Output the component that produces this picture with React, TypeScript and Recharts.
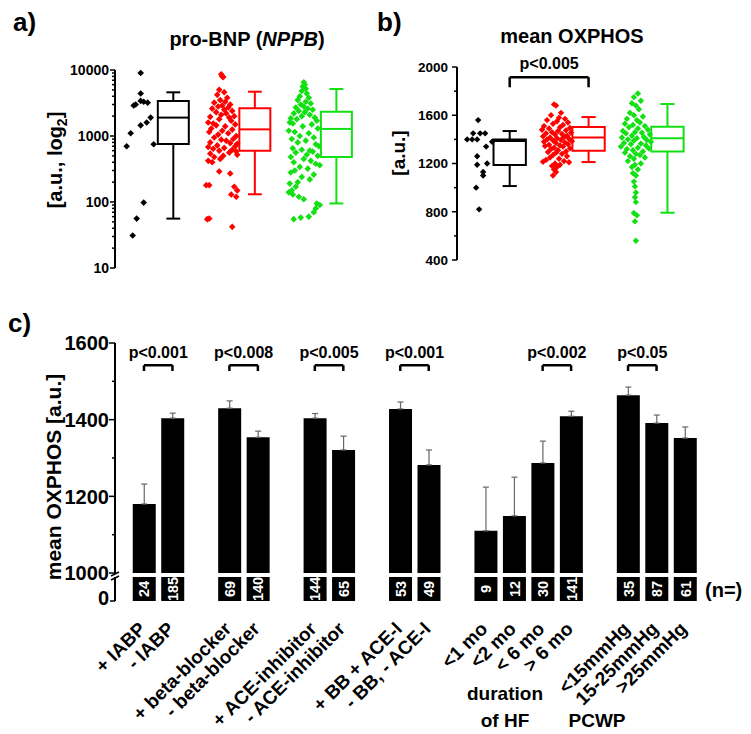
import React from 'react';
import { ComposedChart, BarChart, Bar, Scatter, XAxis, YAxis, ReferenceArea, ReferenceLine, ErrorBar } from 'recharts';

const FONT = '"Liberation Sans", Arial, Helvetica, sans-serif';

// ---------- shared groups ----------
const GROUPS = ['NF', 'NICM', 'ICM'];
const GROUP_COLORS = ['#000000', '#ff0000', '#12e012'];
const LABEL_COLORS = ['#000000', '#ff1a1a', '#3cc43c'];

// ---------- panel a: pro-BNP (log) ----------  [value, jitter]
const BNP_NF = [[9000,0],[4400,0],[2900,-7],[3000,-5],[3400,0],[3300,3],[3200,7],[1900,10],[1600,6],[1450,0],[1100,-10],[700,-14],[750,13],[98,3],[56,-4],[31,-8]];
const BNP_NICM = [[8600,-1],[8000,0],[7800,1],[5000,-3],[4600,2],[4200,-5],[3800,5],[3500,-2],[3300,3],[3200,-8],[3000,8],[2900,0],[2800,-4],[2700,6],[2600,-10],[2500,2],[2400,10],[2300,-6],[2200,4],[2100,-1],[2000,12],[1950,-12],[1900,7],[1800,-3],[1700,9],[1600,-14],[1550,-9],[1500,13],[1450,-6],[1400,3],[1300,-11],[1250,10],[1200,0],[1150,-13],[1100,6],[1050,-4],[1000,14],[950,-8],[900,11],[880,-1],[850,4],[800,-12],[780,8],[760,15],[720,-5],[700,13],[680,-14],[660,2],[640,-9],[620,10],[600,-3],[580,14],[560,7],[540,-12],[520,15],[500,1],[480,-8],[450,-2],[420,-14],[400,-10],[290,-3],[270,8],[180,-16],[180,-13],[170,12],[150,15],[130,9],[120,14],[55,-15],[56,-13],[42,10]];
const BNP_ICM = [[6500,0],[6000,1],[5600,-1],[5200,2],[4800,-2],[4400,3],[4000,-4],[3800,5],[3500,-6],[3300,2],[3100,7],[3000,-3],[2800,0],[2700,-8],[2600,4],[2500,9],[2400,-5],[2300,1],[2200,-10],[2100,6],[2000,-2],[1900,11],[1850,-13],[1800,-7],[1700,13],[1600,-14],[1550,-11],[1500,8],[1400,-1],[1300,14],[1200,-15],[1150,-9],[1100,5],[1000,-4],[950,10],[900,-12],[850,2],[800,-6],[750,12],[700,15],[650,-11],[620,-2],[600,6],[580,9],[560,-8],[520,3],[500,14],[480,-13],[450,0],[420,7],[400,-10],[380,12],[360,16],[340,-4],[320,4],[300,-9],[280,-13],[260,10],[240,-2],[220,6],[200,-6],[190,-14],[170,-8],[150,-12],[140,-15],[130,-11],[120,-5],[110,0],[95,13],[90,16],[80,12],[70,10],[60,5],[55,-10],[58,-3]];
// [whiskerLow, q1, median, q3, whiskerHigh]
const BNP_BOX = [[56,755,1900,3390,4590],[131,600,1260,2630,4690],[95,481,1280,2330,5150]];
const BNP_TICKS = [10,20,30,40,50,60,70,80,90,100,200,300,400,500,600,700,800,900,1000,2000,3000,4000,5000,6000,7000,8000,9000,10000];
const BNP_MAJOR = [10,100,1000,10000];

// ---------- panel b: mean OXPHOS ----------
const OX_NF = [[1560,0],[1400,-11],[1400,-6],[1400,-1],[1450,-5],[1450,2],[1450,7],[1340,8],[1380,14],[1260,-1],[1190,-1],[1200,9],[1130,5],[1100,5],[1000,-2],[820,1]];
const OX_NICM = [[1690,-3],[1680,-1],[1620,4],[1600,-6],[1580,2],[1570,8],[1560,-10],[1550,0],[1540,11],[1530,-4],[1520,6],[1510,-13],[1500,3],[1495,13],[1490,-8],[1480,-15],[1475,9],[1470,1],[1460,-5],[1455,14],[1450,-11],[1445,5],[1440,-2],[1430,10],[1425,-14],[1420,7],[1415,-7],[1410,0],[1405,12],[1400,-10],[1395,4],[1390,-4],[1385,15],[1380,-13],[1375,8],[1370,-1],[1360,11],[1355,-8],[1350,3],[1345,-12],[1340,6],[1330,-3],[1325,13],[1320,-6],[1310,1],[1300,9],[1295,-9],[1290,-1],[1280,5],[1270,-4],[1260,10],[1250,-7],[1240,2],[1230,-11],[1220,7],[1215,-14],[1210,12],[1200,-2],[1190,3],[1180,-5],[1170,0],[1150,-3],[1130,-1],[1100,-4]];
const OX_ICM = [[1780,2],[1750,-2],[1720,5],[1700,-4],[1680,0],[1650,3],[1620,-6],[1600,-2],[1590,7],[1570,-9],[1560,1],[1540,4],[1530,-11],[1520,-3],[1510,9],[1500,-7],[1490,2],[1480,12],[1470,-13],[1460,-1],[1455,6],[1450,-10],[1440,14],[1430,-4],[1420,8],[1415,-14],[1410,1],[1400,-8],[1395,11],[1390,-2],[1380,15],[1370,-12],[1365,5],[1360,-5],[1350,10],[1340,-15],[1330,2],[1325,13],[1320,-9],[1310,-3],[1300,7],[1290,-11],[1280,0],[1270,4],[1260,-6],[1250,9],[1240,-2],[1220,-8],[1200,5],[1190,-1],[1170,-4],[1150,2],[1120,-3],[1100,0],[1050,-2],[1010,-1],[960,0],[920,-1],[880,0],[790,-2],[770,1],[720,-1],[560,0]];
const OX_BOX = [[1013,1187,1386,1398,1469],[1212,1305,1415,1502,1585],[792,1300,1410,1505,1693]];
const OX_TICKS = [400,600,800,1000,1200,1400,1600,1800,2000];
const OX_LABEL_POS = [0.08, 0.94, 1.82];
const OX_PVALUE = { from: 0, to: 1, text: 'p<0.005', top: 1915, leg: 1832 };

// ---------- panel c: bars ----------
const C_LABELS = ['+ IABP','- IABP','','+ beta-blocker','- beta-blocker','','+ ACE-inhibitor','- ACE-inhibitor','','+ BB + ACE-I','- BB, - ACE-I','','<1 mo','<2 mo','< 6 mo','> 6 mo','','<15mmHg','15-25mmHg','>25mmHg'];
const C_MEANS = [1180,1404,null,1430,1354,null,1404,1321,null,1428,1282,null,1110,1149,1287,1409,null,1464,1391,1352];
const C_SEM = [52,13,null,19,16,null,12,36,null,18,39,null,114,101,57,13,null,21,21,29];
const C_N = [24,185,null,69,140,null,144,65,null,53,49,null,9,12,30,141,null,35,87,61];
const C_TICKS = [1000,1100,1200,1300,1400,1500,1600];
const C_BRACKETS = [[0,1,'p<0.001'],[3,4,'p<0.008'],[6,7,'p<0.005'],[9,10,'p<0.001'],[14,15,'p<0.002'],[17,18,'p<0.05']];
const C_BRACKET_TOP = 1542;
const C_BRACKET_LEG = 1527;

// ---------- helpers ----------
const BOX_OFF = 0.2;
const toPoints = (arr: number[][], gi: number, unit: number) =>
  arr.map(([v, j]) => ({ x: gi - BOX_OFF + j / unit, y: v }));

const diamond = (r: number) => (props: any) => {
  const { cx, cy, fill } = props;
  if (cx == null || cy == null) return null;
  return <path d={`M${cx},${cy - r}L${cx + r},${cy}L${cx},${cy + r}L${cx - r},${cy}Z`} fill={fill} />;
};

const makeYTick = (isMajor: (v: number) => boolean, fontSize: number, majorLen: number, minorLen: number, gap: number) => (props: any) => {
  const { x, y, payload } = props;
  const v = payload.value;
  const major = isMajor(v);
  return (
    <g>
      <line x1={x - (major ? majorLen : minorLen)} x2={x} y1={y} y2={y} stroke="#000" strokeWidth={1.5} />
      {major && (
        <text x={x - gap} y={y} dy="0.36em" textAnchor="end" fontSize={fontSize} fontWeight="bold" fontFamily={FONT} fill="#000">{v}</text>
      )}
    </g>
  );
};

const makeGroupTick = (positions: number[], dyText: number, fontSize: number) => (props: any) => {
  const { x, y, payload } = props;
  let i = positions.findIndex((p) => Math.abs(p - payload.value) < 1e-6);
  if (i < 0) i = 0;
  return (
    <text x={x} y={y + dyText} textAnchor="middle" fontSize={fontSize} fontWeight="bold" fontFamily={FONT} fill={LABEL_COLORS[i]}>{GROUPS[i]}</text>
  );
};

function boxElements(box: number[][], halfW: number, capHalf: number, prefix: string) {
  const out: any[] = [];
  box.forEach(([lo, q1, med, q3, hi], gi) => {
    const c = gi + BOX_OFF;
    const col = GROUP_COLORS[gi];
    out.push(<ReferenceArea key={`${prefix}a${gi}`} x1={c - halfW} x2={c + halfW} y1={q1} y2={q3} fill="none" fillOpacity={0} stroke={col} strokeWidth={2} strokeOpacity={1} />);
    out.push(<ReferenceLine key={`${prefix}m${gi}`} segment={[{ x: c - halfW, y: med }, { x: c + halfW, y: med }]} stroke={col} strokeWidth={2} />);
    out.push(<ReferenceLine key={`${prefix}u${gi}`} segment={[{ x: c, y: q3 }, { x: c, y: hi }]} stroke={col} strokeWidth={2} />);
    out.push(<ReferenceLine key={`${prefix}l${gi}`} segment={[{ x: c, y: q1 }, { x: c, y: lo }]} stroke={col} strokeWidth={2} />);
    out.push(<ReferenceLine key={`${prefix}hc${gi}`} segment={[{ x: c - capHalf, y: hi }, { x: c + capHalf, y: hi }]} stroke={col} strokeWidth={2} />);
    out.push(<ReferenceLine key={`${prefix}lc${gi}`} segment={[{ x: c - capHalf, y: lo }, { x: c + capHalf, y: lo }]} stroke={col} strokeWidth={2} />);
  });
  return out;
}

// ---------- panel A ----------
function PanelA() {
  const UNIT = 81.5;
  const sets = [BNP_NF, BNP_NICM, BNP_ICM];
  return (
    <ComposedChart width={375} height={290} margin={{ top: 70, right: 6, bottom: 22, left: 0 }}>
      <XAxis type="number" dataKey="x" domain={[-0.515, 2.6]} ticks={[0, 1, 2]} height={0} axisLine={false} tickLine={false} tickSize={0} tickMargin={0} allowDataOverflow tick={makeGroupTick([0, 1, 2], -8, 21)} />
      <YAxis type="number" dataKey="y" scale="log" domain={[10, 10000]} allowDataOverflow ticks={BNP_TICKS} interval={0} width={115} tickSize={0} tickMargin={0} axisLine={{ stroke: '#000', strokeWidth: 2 }} tickLine={false} tick={makeYTick((v) => BNP_MAJOR.includes(v), 14, 5, 3, 6)} />
      {sets.map((s, gi) => (
        <Scatter key={`s${gi}`} data={toPoints(s, gi, UNIT)} dataKey="y" fill={GROUP_COLORS[gi]} shape={diamond(3.3)} isAnimationActive={false} />
      ))}
      {boxElements(BNP_BOX, 0.19, 0.085, 'a')}
    </ComposedChart>
  );
}

// ---------- panel B ----------
function PanelB() {
  const UNIT = 79;
  const sets = [OX_NF, OX_NICM, OX_ICM];
  const x0 = OX_PVALUE.from + BOX_OFF;
  const x1 = OX_PVALUE.to + BOX_OFF;
  return (
    <ComposedChart width={376} height={290} margin={{ top: 67, right: 52, bottom: 30, left: 0 }}>
      <XAxis type="number" dataKey="x" domain={[-0.468, 2.6]} ticks={OX_LABEL_POS} height={0} axisLine={false} tickLine={false} tickSize={0} tickMargin={0} allowDataOverflow tick={makeGroupTick(OX_LABEL_POS, 0, 20)} />
      <YAxis type="number" dataKey="y" domain={[400, 2000]} allowDataOverflow ticks={OX_TICKS} interval={0} width={82} tickSize={0} tickMargin={0} axisLine={{ stroke: '#000', strokeWidth: 2 }} tickLine={false} tick={makeYTick((v) => v % 400 === 0, 13.5, 5, 3, 9)} />
      {sets.map((s, gi) => (
        <Scatter key={`s${gi}`} data={toPoints(s, gi, UNIT)} dataKey="y" fill={GROUP_COLORS[gi]} shape={diamond(3.2)} isAnimationActive={false} />
      ))}
      {boxElements(OX_BOX, 0.205, 0.09, 'b')}
      <ReferenceLine segment={[{ x: x0, y: OX_PVALUE.top }, { x: x1, y: OX_PVALUE.top }]} stroke="#000" strokeWidth={2.5}
        label={{ value: OX_PVALUE.text, position: 'top', offset: 8, fontSize: 16, fontWeight: 'bold', fontFamily: FONT, fill: '#000' }} />
      <ReferenceLine segment={[{ x: x0, y: OX_PVALUE.top }, { x: x0, y: OX_PVALUE.leg }]} stroke="#000" strokeWidth={2.5} />
      <ReferenceLine segment={[{ x: x1, y: OX_PVALUE.top }, { x: x1, y: OX_PVALUE.leg }]} stroke="#000" strokeWidth={2.5} />
    </ComposedChart>
  );
}

// ---------- panel C ----------
const C_ROWS = C_LABELS.map((label, i) => ({
  key: `s${i}`,
  label,
  mean: C_MEANS[i],
  err: C_SEM[i] == null ? null : [0, C_SEM[i]],
  n: C_N[i],
}));

const C_PAD = { left: 14.75, right: 14.25 };

const CYTick = (props: any) => {
  const { x, y, payload } = props;
  const v = payload.value;
  const major = v % 200 === 0;
  return (
    <g>
      <line x1={x - (major ? 6 : 3)} x2={x} y1={y} y2={y} stroke="#000" strokeWidth={1.5} />
      {major && (
        <text x={x - 6} y={y} dy="0.36em" textAnchor="end" fontSize={20} fontWeight="bold" fontFamily={FONT} fill="#000">{v}</text>
      )}
      {v === 1000 && (
        <g>
          <line x1={x - 4} y1={y + 3} x2={x + 4} y2={y - 1} stroke="#000" strokeWidth={1.5} />
          <line x1={x - 4} y1={y + 7} x2={x + 4} y2={y + 3} stroke="#000" strokeWidth={1.5} />
        </g>
      )}
    </g>
  );
};

function PanelC() {
  return (
    <ComposedChart width={751} height={292} data={C_ROWS} margin={{ top: 43, right: 37.5, bottom: 19, left: 0 }}>
      <XAxis dataKey="key" hide padding={C_PAD} />
      <YAxis type="number" domain={[1000, 1600]} ticks={C_TICKS} interval={0} width={115} tickSize={0} tickMargin={0} axisLine={{ stroke: '#000', strokeWidth: 2 }} tickLine={false} tick={CYTick} />
      <Bar dataKey="mean" fill="#000" barSize={23} isAnimationActive={false}>
        <ErrorBar dataKey="err" width={3} stroke="#666" strokeWidth={1.2} direction="y" />
      </Bar>
      {C_BRACKETS.map(([a, b, text]) => [
        <ReferenceLine key={`t${a}`} segment={[{ x: `s${a}`, y: C_BRACKET_TOP }, { x: `s${b}`, y: C_BRACKET_TOP }]} stroke="#000" strokeWidth={2.5}
          label={{ value: text as string, position: 'top', offset: 7, fontSize: 16, fontWeight: 'bold', fontFamily: FONT, fill: '#000' }} />,
        <ReferenceLine key={`l${a}`} segment={[{ x: `s${a}`, y: C_BRACKET_TOP }, { x: `s${a}`, y: C_BRACKET_LEG }]} stroke="#000" strokeWidth={2.5} />,
        <ReferenceLine key={`r${a}`} segment={[{ x: `s${b}`, y: C_BRACKET_TOP }, { x: `s${b}`, y: C_BRACKET_LEG }]} stroke="#000" strokeWidth={2.5} />,
      ])}
    </ComposedChart>
  );
}

// ---------- n boxes + category labels ----------
const NBox = (props: any) => {
  const { x, width, background, payload, y, height } = props;
  if (!payload || payload.n == null) return null;
  const by = background ? background.y : y;
  const bh = background ? background.height : height;
  return (
    <g>
      <rect x={x} y={by} width={width} height={bh} fill="#000" />
      <text transform={`translate(${x + width / 2},${by + bh / 2}) rotate(-90)`} textAnchor="middle" dy="0.36em" fill="#fff" fontSize={14.5} fontWeight="bold" fontFamily={FONT}>{payload.n}</text>
    </g>
  );
};

const RotTick = (props: any) => {
  const { x, y, payload, index } = props;
  const i = typeof index === 'number' ? index : C_ROWS.findIndex((r) => r.key === payload.value);
  const label = C_LABELS[i];
  if (!label) return null;
  const ax = x + 3;
  const ay = y + 29;
  const id = `cat-label-path-${i}`;
  return (
    <g>
      <path id={id} d={`M${ax - 200},${ay + 200}L${ax},${ay}`} fill="none" stroke="none" />
      <text fontSize={19} fontWeight="bold" fontFamily={FONT} fill="#000">
        <textPath href={`#${id}`} startOffset="100%" textAnchor="end">{label}</textPath>
      </text>
    </g>
  );
};

const ZeroTick = (props: any) => {
  const { x, y, payload } = props;
  return (
    <g>
      <line x1={x - 5} x2={x} y1={y} y2={y} stroke="#000" strokeWidth={1.5} />
      <text x={x - 6} y={y} dy="0.2em" textAnchor="end" fontSize={20} fontWeight="bold" fontFamily={FONT} fill="#000">{payload.value}</text>
    </g>
  );
};

function PanelN() {
  return (
    <BarChart width={751} height={157} data={C_ROWS} margin={{ top: 0, right: 37.5, bottom: 0, left: 0 }}>
      <XAxis dataKey="key" padding={C_PAD} height={133} axisLine={false} tickLine={false} tickSize={0} tickMargin={0} interval={0} tick={RotTick} />
      <YAxis type="number" domain={[0, 1]} ticks={[0]} width={115} tickSize={0} tickMargin={0} axisLine={{ stroke: '#000', strokeWidth: 2 }} tickLine={false} tick={ZeroTick} />
      <Bar dataKey="n" fill="#000" barSize={23} isAnimationActive={false} shape={NBox} />
    </BarChart>
  );
}

export default function App() {
  const T = { fontFamily: FONT, fontWeight: 'bold' as const, fill: '#000' };
  return (
    <div style={{ position: 'absolute', left: 0, top: 0, width: 751, height: 734, background: '#fff', overflow: 'hidden' }}>
      <div style={{ position: 'absolute', left: 0, top: 0 }}><PanelA /></div>
      <div style={{ position: 'absolute', left: 375, top: 0 }}><PanelB /></div>
      <div style={{ position: 'absolute', left: 0, top: 300 }}><PanelC /></div>
      <div style={{ position: 'absolute', left: 0, top: 577 }}><PanelN /></div>
      <svg width={751} height={734} style={{ position: 'absolute', left: 0, top: 0, pointerEvents: 'none' }}>
        <text x={13} y={31} fontSize={26} {...T}>a)</text>
        <text x={377} y={31} fontSize={26} {...T}>b)</text>
        <text x={8} y={332} fontSize={26} {...T}>c)</text>
        <text x={247} y={46} fontSize={20} textAnchor="middle" {...T}>pro-BNP (<tspan fontStyle="italic">NPPB</tspan>)</text>
        <text x={572} y={43} fontSize={20} textAnchor="middle" {...T}>mean OXPHOS</text>
        <text transform="translate(62,160) rotate(-90)" fontSize={20} textAnchor="middle" {...T}>[a.u., log<tspan fontSize={14} dy={5}>2</tspan><tspan dy={-5}>]</tspan></text>
        <text transform="translate(405,153) rotate(-90)" fontSize={19} textAnchor="middle" {...T}>[a.u.]</text>
        <text transform="translate(61,477) rotate(-90)" fontSize={21} textAnchor="middle" {...T}>mean OXPHOS [a.u.]</text>
        <text x={505} y={700} fontSize={19} textAnchor="middle" {...T}>duration</text>
        <text x={505} y={727} fontSize={19} textAnchor="middle" {...T}>of HF</text>
        <text x={597} y={727} fontSize={19} textAnchor="middle" {...T}>PCWP</text>
        <text x={705} y={597} fontSize={20} {...T}>(n=)</text>
      </svg>
    </div>
  );
}
